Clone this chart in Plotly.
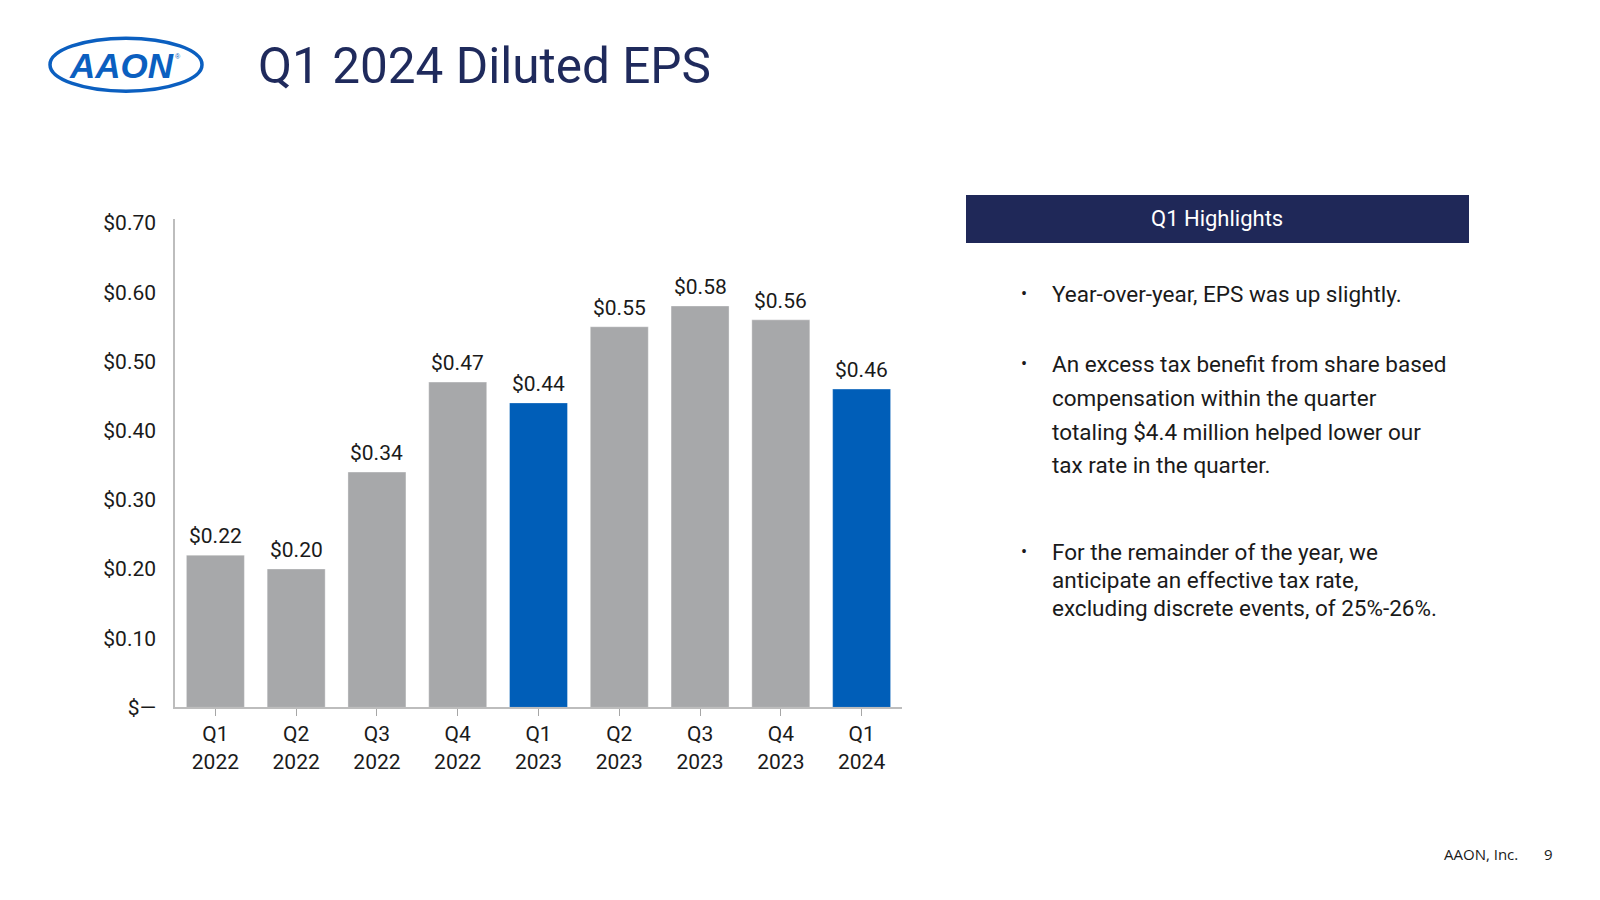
import plotly.graph_objects as go

# ---- data ----
quarters = ["Q1", "Q2", "Q3", "Q4", "Q1", "Q2", "Q3", "Q4", "Q1"]
years = ["2022", "2022", "2022", "2022", "2023", "2023", "2023", "2023", "2024"]
eps = [0.22, 0.20, 0.34, 0.47, 0.44, 0.55, 0.58, 0.56, 0.46]
highlight = [False, False, False, False, True, False, False, False, True]
y_ticks = [0.0, 0.1, 0.2, 0.3, 0.4, 0.5, 0.6, 0.7]

title_text = "Q1 2024 Diluted EPS"
box_title = "Q1 Highlights"
para1 = ["Year-over-year, EPS was up slightly."]
para2 = ["An excess tax benefit from share based",
         "compensation within the quarter",
         "totaling $4.4 million helped lower our",
         "tax rate in the quarter."]
para3 = ["For the remainder of the year, we",
         "anticipate an effective tax rate,",
         "excluding discrete events, of 25%-26%."]
footer_company = "AAON, Inc."
footer_page = "9"

# ---- style ----
GRAY = "#A7A8AA"
BLUE = "#005EB8"
NAVY = "#1F2A5C"
TEXT = "#1A1A1A"
FONT = "Roboto"
W, H = 1600, 900
VS, VO = 0.979, 7.75  # vertical correction for the page capture


def px(x):
    return x / W


def py(y):
    return 1 - ((y - VO) / VS) / H


cats = [f"{q}<br>{y}" for q, y in zip(quarters, years)]
colors = [BLUE if h else GRAY for h in highlight]

fig = go.Figure()
fig.add_trace(go.Bar(
    x=list(range(len(cats))), y=eps,
    marker=dict(color=colors, line=dict(color="rgba(255,255,255,0.35)", width=1)),
    hoverinfo="skip", showlegend=False,
))


def fmt_tick(v):
    return "$—" if v == 0 else f"${v:.2f}"


annotations = []
# value labels
for i, v in enumerate(eps):
    annotations.append(dict(
        x=i, y=v, xref="x", yref="y", text=f"${v:.2f}", showarrow=False,
        yanchor="bottom", xanchor="center", yshift=5,
        font=dict(family=FONT, size=21, color=TEXT),
    ))

# title
annotations.append(dict(
    x=px(256), y=py(66), xref="paper", yref="paper", text=title_text,
    showarrow=False, xanchor="left", yanchor="middle",
    font=dict(family=FONT, size=49.5, color=NAVY),
))
# logo text
annotations.append(dict(
    x=px(121), y=py(65), xref="paper", yref="paper", text="<b><i>AAON</i></b>",
    showarrow=False, xanchor="center", yanchor="middle",
    font=dict(family="Liberation Sans", size=35, color="#0B5FC0"),
))
annotations.append(dict(
    x=px(178), y=py(56), xref="paper", yref="paper", text="®",
    showarrow=False, xanchor="center", yanchor="middle",
    font=dict(family="Liberation Sans", size=7, color="#0B5FC0"),
))
# box title
annotations.append(dict(
    x=px(1217), y=py(219), xref="paper", yref="paper", text=box_title,
    showarrow=False, xanchor="center", yanchor="middle",
    font=dict(family=FONT, size=22, color="white"),
))

# bullets
bullet_lines = [
    (para1, [294]),
    (para2, [364, 398, 432, 465]),
    (para3, [552, 580, 608]),
]
for lines, ys in bullet_lines:
    annotations.append(dict(
        x=px(1024), y=py(ys[0]), xref="paper", yref="paper", text="•",
        showarrow=False, xanchor="center", yanchor="middle",
        font=dict(family=FONT, size=18, color=TEXT),
    ))
    for t, yy in zip(lines, ys):
        annotations.append(dict(
            x=px(1050), y=py(yy), xref="paper", yref="paper", text=t,
            showarrow=False, xanchor="left", yanchor="middle",
            font=dict(family=FONT, size=22.5, color=TEXT),
        ))

# footer
annotations.append(dict(
    x=px(1520), y=py(855), xref="paper", yref="paper", text=footer_company,
    showarrow=False, xanchor="right", yanchor="middle",
    font=dict(family="Open Sans", size=15, color=TEXT),
))
annotations.append(dict(
    x=px(1548), y=py(855), xref="paper", yref="paper", text=footer_page,
    showarrow=False, xanchor="center", yanchor="middle",
    font=dict(family="Open Sans", size=15, color=TEXT),
))

shapes = [
    # highlights header box
    dict(type="rect", xref="paper", yref="paper",
         x0=px(966), x1=px(1469), y0=py(243), y1=py(195),
         fillcolor="#1F2858", line=dict(width=0), layer="below"),
    # logo ellipse
    dict(type="circle", xref="paper", yref="paper",
         x0=px(50), x1=px(202), y0=py(91), y1=py(38),
         line=dict(color="#0B5FC0", width=3.5)),
]

fig.update_layout(
    width=W, height=H,
    margin=dict(l=0, r=0, t=0, b=0),
    paper_bgcolor="white", plot_bgcolor="white",
    bargap=0.282,
    annotations=annotations, shapes=shapes,
    xaxis=dict(
        domain=[px(175), px(902)],
        range=[-0.5, len(cats) - 0.5],
        tickmode="array", tickvals=list(range(len(cats))), ticktext=cats,
        showline=True, linecolor="#BDBDBD", linewidth=1.5,
        ticks="outside", ticklen=7, tickcolor="#A6A6A6", tickwidth=1,
        tickfont=dict(family=FONT, size=21, color=TEXT),
        showgrid=False, zeroline=False, fixedrange=True,
    ),
    yaxis=dict(
        domain=[py(708), py(219.5)],
        range=[0, 0.705],
        tickmode="array", tickvals=y_ticks, ticktext=[fmt_tick(v) for v in y_ticks],
        showline=True, linecolor="#BDBDBD", linewidth=1.5,
        ticks="", ticklabelstandoff=13,
        tickfont=dict(family=FONT, size=21, color=TEXT),
        showgrid=False, zeroline=False, fixedrange=True,
    ),
)

fig.write_html(
    "out.html",
    config={"displayModeBar": False},
    post_script="document.body.style.margin='0';document.body.style.overflow='hidden';",
)
